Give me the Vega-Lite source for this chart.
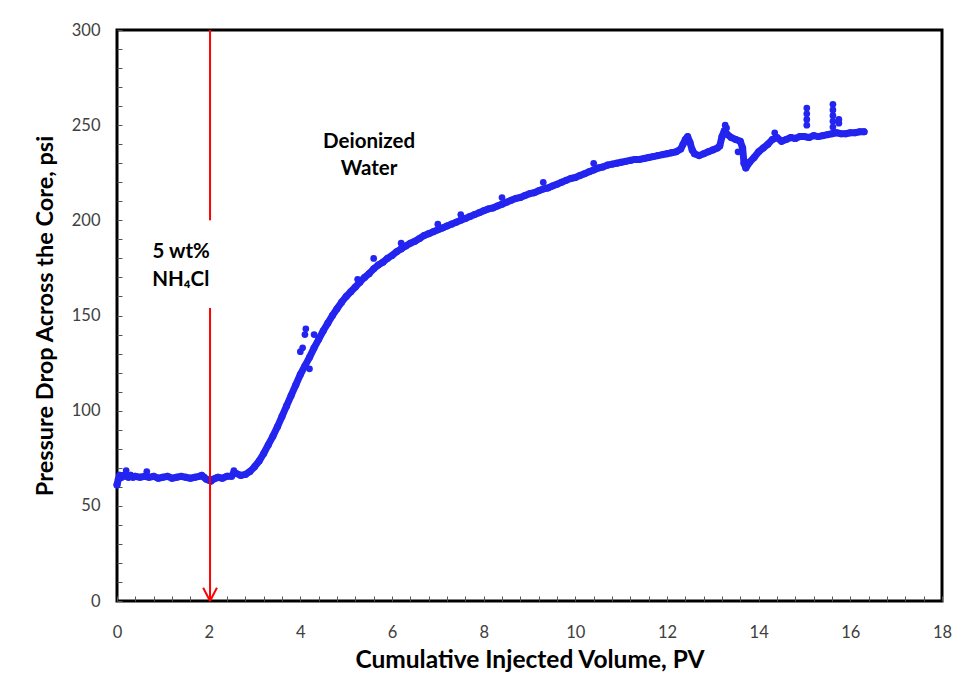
{
  "$schema": "https://vega.github.io/schema/vega-lite/v6.json",
  "width": 825,
  "height": 571,
  "autosize": {"type": "none"},
  "padding": {"left": 117, "top": 30, "right": 22, "bottom": 95},
  "background": "white",
  "config": {"view": {"stroke": "black", "strokeWidth": 3}, "font": "Lato"},
  "datasets": {
    "main": [
      {"pv":0.00,"dp":61},{"pv":0.03,"dp":64},{"pv":0.06,"dp":66},{"pv":0.10,"dp":65},{"pv":0.15,"dp":66},{"pv":0.20,"dp":65.5},{"pv":0.25,"dp":65},{"pv":0.30,"dp":66},{"pv":0.35,"dp":65},{"pv":0.40,"dp":65.5},{"pv":0.50,"dp":65},{"pv":0.60,"dp":65.5},{"pv":0.70,"dp":65},{"pv":0.80,"dp":65.5},{"pv":0.90,"dp":64.5},{"pv":1.00,"dp":65},{"pv":1.10,"dp":65.5},{"pv":1.20,"dp":64.5},{"pv":1.30,"dp":65},{"pv":1.40,"dp":65.5},{"pv":1.50,"dp":65},{"pv":1.60,"dp":64.5},{"pv":1.70,"dp":65},{"pv":1.80,"dp":65.5},{"pv":1.85,"dp":66},{"pv":1.90,"dp":65},{"pv":1.95,"dp":64},{"pv":2.00,"dp":63.5},{"pv":2.05,"dp":63},{"pv":2.10,"dp":64},{"pv":2.15,"dp":64.5},{"pv":2.20,"dp":65},{"pv":2.30,"dp":64.5},{"pv":2.40,"dp":65.5},{"pv":2.50,"dp":65.5},{"pv":2.55,"dp":67.5},{"pv":2.60,"dp":67},{"pv":2.70,"dp":66},{"pv":2.80,"dp":66.5},{"pv":2.90,"dp":68},
      {"pv":3.00,"dp":70.5},{"pv":3.10,"dp":73.5},{"pv":3.20,"dp":77.5},{"pv":3.30,"dp":82},{"pv":3.40,"dp":86.5},{"pv":3.50,"dp":91.5},{"pv":3.60,"dp":97},{"pv":3.70,"dp":102.5},{"pv":3.80,"dp":108},{"pv":3.90,"dp":113.5},{"pv":4.00,"dp":119},{"pv":4.10,"dp":123.5},{"pv":4.20,"dp":128},{"pv":4.30,"dp":133},{"pv":4.40,"dp":137.5},{"pv":4.50,"dp":142},{"pv":4.60,"dp":146},{"pv":4.70,"dp":150},{"pv":4.80,"dp":153.5},{"pv":4.90,"dp":157},
      {"pv":5.00,"dp":160},{"pv":5.10,"dp":162.5},{"pv":5.20,"dp":165},{"pv":5.30,"dp":167.5},{"pv":5.40,"dp":170},{"pv":5.50,"dp":172},{"pv":5.60,"dp":174.5},{"pv":5.70,"dp":176.5},{"pv":5.80,"dp":178},{"pv":5.90,"dp":180},{"pv":6.00,"dp":181.5},{"pv":6.10,"dp":183.5},{"pv":6.20,"dp":185},{"pv":6.30,"dp":186.5},{"pv":6.40,"dp":188},{"pv":6.50,"dp":189},{"pv":6.60,"dp":190.5},{"pv":6.70,"dp":192},{"pv":6.80,"dp":193},{"pv":6.90,"dp":194},
      {"pv":7.00,"dp":195},{"pv":7.10,"dp":196},{"pv":7.20,"dp":197},{"pv":7.30,"dp":198},{"pv":7.40,"dp":199},{"pv":7.50,"dp":200},{"pv":7.60,"dp":201},{"pv":7.70,"dp":202},{"pv":7.80,"dp":203},{"pv":7.90,"dp":204},{"pv":8.00,"dp":205},{"pv":8.10,"dp":206},{"pv":8.20,"dp":206.5},{"pv":8.30,"dp":207.5},{"pv":8.40,"dp":208.5},{"pv":8.50,"dp":209.5},{"pv":8.60,"dp":210.5},{"pv":8.70,"dp":211.5},{"pv":8.80,"dp":212},{"pv":8.90,"dp":213},
      {"pv":9.00,"dp":214},{"pv":9.10,"dp":214.5},{"pv":9.20,"dp":215.5},{"pv":9.30,"dp":216.5},{"pv":9.40,"dp":217},{"pv":9.50,"dp":218},{"pv":9.60,"dp":219},{"pv":9.70,"dp":220},{"pv":9.80,"dp":221},{"pv":9.90,"dp":222},{"pv":10.00,"dp":222.5},{"pv":10.10,"dp":223.5},{"pv":10.20,"dp":224.5},{"pv":10.30,"dp":225.5},{"pv":10.40,"dp":226.5},{"pv":10.50,"dp":227.5},{"pv":10.60,"dp":228},{"pv":10.70,"dp":229},{"pv":10.80,"dp":229.5},{"pv":10.90,"dp":230},
      {"pv":11.00,"dp":230.5},{"pv":11.10,"dp":231},{"pv":11.20,"dp":231.5},{"pv":11.30,"dp":232},{"pv":11.40,"dp":232},{"pv":11.50,"dp":232.5},{"pv":11.60,"dp":233},{"pv":11.70,"dp":233.5},{"pv":11.80,"dp":234},{"pv":11.90,"dp":234.5},{"pv":12.00,"dp":235},{"pv":12.10,"dp":235.5},{"pv":12.20,"dp":236},{"pv":12.30,"dp":237.5},{"pv":12.35,"dp":240},{"pv":12.40,"dp":242.5},{"pv":12.45,"dp":244},{"pv":12.50,"dp":241},{"pv":12.55,"dp":237},{"pv":12.60,"dp":235},{"pv":12.70,"dp":234},{"pv":12.80,"dp":235},{"pv":12.90,"dp":236},
      {"pv":13.00,"dp":237},{"pv":13.10,"dp":238},{"pv":13.15,"dp":239},{"pv":13.20,"dp":244},{"pv":13.25,"dp":247},{"pv":13.30,"dp":245.5},{"pv":13.40,"dp":243.5},{"pv":13.50,"dp":242.5},{"pv":13.60,"dp":241.5},{"pv":13.65,"dp":238},{"pv":13.68,"dp":230},{"pv":13.72,"dp":227.5},{"pv":13.80,"dp":230.5},{"pv":13.90,"dp":233},{"pv":14.00,"dp":236},{"pv":14.10,"dp":238},{"pv":14.20,"dp":240},{"pv":14.30,"dp":242.5},{"pv":14.40,"dp":243.5},{"pv":14.50,"dp":241.5},{"pv":14.60,"dp":242.5},{"pv":14.70,"dp":243.5},{"pv":14.80,"dp":243},{"pv":14.90,"dp":244},
      {"pv":15.00,"dp":244},{"pv":15.10,"dp":243.5},{"pv":15.20,"dp":244.5},{"pv":15.30,"dp":244},{"pv":15.40,"dp":244.5},{"pv":15.50,"dp":245},{"pv":15.60,"dp":245.5},{"pv":15.70,"dp":246},{"pv":15.80,"dp":245.5},{"pv":15.90,"dp":245.5},{"pv":16.00,"dp":246},{"pv":16.10,"dp":246},{"pv":16.20,"dp":246.5},{"pv":16.30,"dp":246.5}
    ],
    "out": [
      {"pv":0.2,"dp":68.5},{"pv":0.65,"dp":68},{"pv":2.55,"dp":68.5},{"pv":4.0,"dp":131},{"pv":4.05,"dp":133},{"pv":4.1,"dp":140},{"pv":4.12,"dp":143},{"pv":4.2,"dp":122},{"pv":4.3,"dp":140},{"pv":5.25,"dp":169},{"pv":5.6,"dp":180},{"pv":6.2,"dp":188},{"pv":7.0,"dp":198},{"pv":7.5,"dp":203},{"pv":8.4,"dp":212},{"pv":9.3,"dp":220},{"pv":10.4,"dp":230},{"pv":13.27,"dp":250},{"pv":13.3,"dp":248.5},{"pv":13.55,"dp":236},{"pv":14.35,"dp":246},
      {"pv":15.05,"dp":250},{"pv":15.05,"dp":253},{"pv":15.05,"dp":256},{"pv":15.05,"dp":259},{"pv":15.62,"dp":249},{"pv":15.62,"dp":252},{"pv":15.62,"dp":255},{"pv":15.62,"dp":258},{"pv":15.62,"dp":261},{"pv":15.75,"dp":251},{"pv":15.75,"dp":253}
    ],
    "arrow": [
      {"pv":2.03,"dp":300,"pv2":2.03,"dp2":200},
      {"pv":2.03,"dp":154,"pv2":2.03,"dp2":0},
      {"pv":1.88,"dp":7,"pv2":2.03,"dp2":0},
      {"pv":2.18,"dp":7,"pv2":2.03,"dp2":0}
    ],
    "notes": [
      {"pv":1.40,"dp":183.5,"t":"5 wt%"},
      {"pv":1.39,"dp":168.6,"t":"NH₄Cl"},
      {"pv":5.5,"dp":241.3,"t":"Deionized"},
      {"pv":5.5,"dp":227,"t":"Water"}
    ]
  },
  "encoding": {
    "x": {
      "field": "pv", "type": "quantitative",
      "scale": {"domain": [0, 18], "nice": false, "zero": false},
      "axis": {
        "values": [0,0.4,0.8,1.2,1.6,2,2.4,2.8,3.2,3.6,4,4.4,4.8,5.2,5.6,6,6.4,6.8,7.2,7.6,8,8.4,8.8,9.2,9.6,10,10.4,10.8,11.2,11.6,12,12.4,12.8,13.2,13.6,14,14.4,14.8,15.2,15.6,16,16.4,16.8,17.2,17.6,18],
        "labelExpr": "datum.value % 2 === 0 ? '' + datum.value : ''",
        "tickSize": -5, "tickColor": "#555555", "tickWidth": 1,
        "domain": false, "grid": false, "labelFlush": false,
        "labelFont": "Lato", "labelFontSize": 16.5, "labelColor": "#404040", "labelPadding": 28,
        "title": "Cumulative Injected Volume, PV",
        "titleFont": "Lato", "titleFontSize": 24.5, "titleFontWeight": "bold", "titleColor": "black", "titlePadding": 8
      }
    },
    "y": {
      "field": "dp", "type": "quantitative",
      "scale": {"domain": [0, 300], "nice": false, "zero": false},
      "axis": {
        "values": [0,10,20,30,40,50,60,70,80,90,100,110,120,130,140,150,160,170,180,190,200,210,220,230,240,250,260,270,280,290,300],
        "labelExpr": "datum.value % 50 === 0 ? '' + datum.value : ''",
        "tickSize": -5, "tickColor": "#555555", "tickWidth": 1,
        "domain": false, "grid": false, "labelFlush": false,
        "labelFont": "Lato", "labelFontSize": 16.5, "labelColor": "#404040", "labelPadding": 22,
        "title": "Pressure Drop Across the Core, psi",
        "titleFont": "Lato", "titleFontSize": 23.5, "titleFontWeight": "bold", "titleColor": "black", "titlePadding": 14
      }
    }
  },
  "layer": [
    {
      "data": {"name": "main"},
      "mark": {"type": "line", "color": "#2424F0", "strokeWidth": 7, "strokeJoin": "round", "strokeCap": "round"}
    },
    {
      "data": {"name": "main"},
      "mark": {"type": "circle", "color": "#2424F0", "size": 50, "opacity": 1}
    },
    {
      "data": {"name": "out"},
      "mark": {"type": "circle", "color": "#2424F0", "size": 45, "opacity": 1}
    },
    {
      "data": {"name": "arrow"},
      "mark": {"type": "rule", "color": "#FF0000", "strokeWidth": 2},
      "encoding": {
        "x2": {"field": "pv2"},
        "y2": {"field": "dp2"}
      }
    },
    {
      "data": {"name": "notes"},
      "mark": {"type": "text", "font": "Lato, DejaVu Sans", "fontSize": 20.5, "fontWeight": "bold", "color": "black", "align": "center", "baseline": "middle"},
      "encoding": {
        "text": {"field": "t"}
      }
    }
  ]
}
